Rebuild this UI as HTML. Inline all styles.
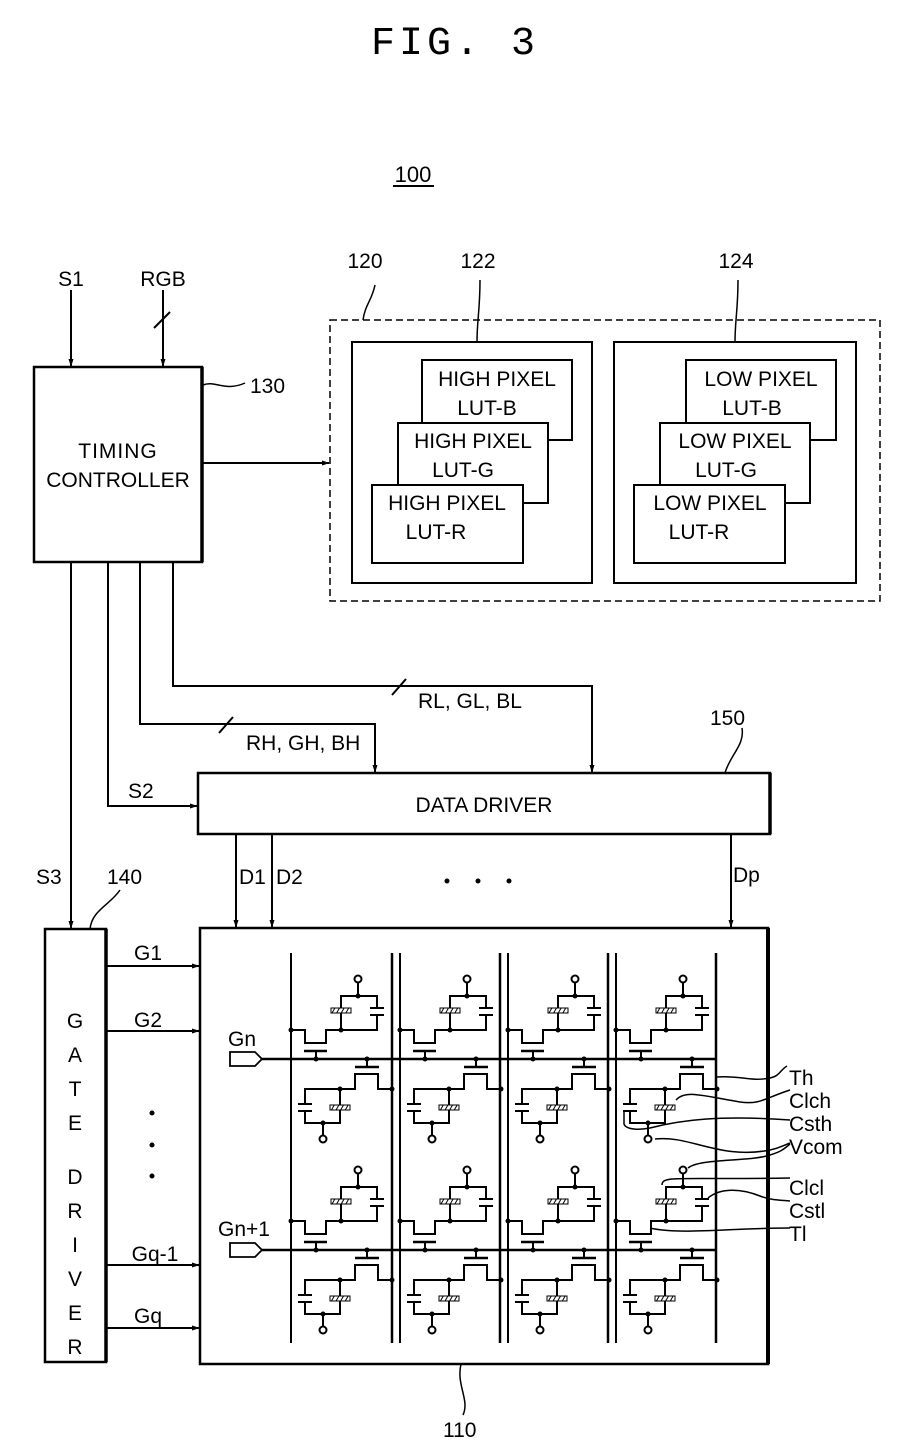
<!DOCTYPE html>
<html><head><meta charset="utf-8"><style>
html,body{margin:0;padding:0;background:#fff}
svg{display:block}
text{font-family:"Liberation Sans",sans-serif;fill:#000}
</style></head><body>
<svg width="898" height="1453" viewBox="0 0 898 1453" xmlns="http://www.w3.org/2000/svg">
<defs>
<marker id="ar" markerWidth="8" markerHeight="8" refX="7" refY="4" orient="auto" markerUnits="userSpaceOnUse"><path d="M0,1.5 L8,4 L0,6.5z" fill="#000"/></marker>
<pattern id="hat" width="4" height="4" patternUnits="userSpaceOnUse" patternTransform="rotate(30)"><rect width="4" height="4" fill="#fff"/><line x1="0" y1="0" x2="0" y2="4" stroke="#000" stroke-width="2"/></pattern>
<g id="cell" fill="none" stroke="#000" stroke-width="2">
  <path d="M0,-29 H14 V-16 H35 V-29 H50"/>
  <line x1="13" y1="-8" x2="36" y2="-8" stroke-width="2.5"/>
  <line x1="25" y1="-8" x2="25" y2="0"/>
  <path d="M50,-29 V-63 H86 V-51 M86,-44 V-29 H50"/>
  <line x1="79" y1="-51" x2="93" y2="-51"/>
  <line x1="79" y1="-44" x2="93" y2="-44"/>
  <rect x="40" y="-51" width="20" height="5" fill="url(#hat)" stroke-width="1"/>
  <line x1="67" y1="-63" x2="67" y2="-76"/>
  <circle cx="67" cy="-80" r="3.5" fill="#fff"/>
  <path d="M49,30 H64 V15 H87 V30 H101"/>
  <line x1="64" y1="8" x2="88" y2="8" stroke-width="2.5"/>
  <line x1="76" y1="0" x2="76" y2="8"/>
  <path d="M49,30 H14 V45 M14,52 V64 H49 V30"/>
  <line x1="7" y1="45" x2="21" y2="45"/>
  <line x1="7" y1="52" x2="21" y2="52"/>
  <rect x="39" y="46" width="20" height="5" fill="url(#hat)" stroke-width="1"/>
  <line x1="32" y1="64" x2="32" y2="76"/>
  <circle cx="32" cy="80" r="3.5" fill="#fff"/>
  <g fill="#000" stroke="none">
    <circle cx="0" cy="-29" r="2.5"/><circle cx="50" cy="-29" r="2.5"/><circle cx="67" cy="-63" r="2.5"/>
    <circle cx="25" cy="0" r="2.5"/><circle cx="76" cy="0" r="2.5"/>
    <circle cx="101" cy="30" r="2.5"/><circle cx="49" cy="30" r="2.5"/><circle cx="32" cy="64" r="2.5"/>
  </g>
</g>
</defs>

<text x="455" y="54" font-size="40" text-anchor="middle" style="font-family:'Liberation Mono',monospace" letter-spacing="4">FIG. 3</text>
<text x="413" y="182" font-size="22" text-anchor="middle">100</text>
<line x1="393" y1="186" x2="434" y2="186" stroke="#000" stroke-width="2"/>

<g fill="none" stroke="#000" stroke-width="2">
<rect x="34" y="367" width="168" height="195" stroke-width="2.5"/>
<line x1="202" y1="367" x2="202" y2="562" stroke-width="3.5"/>
<line x1="71" y1="290" x2="71" y2="366" marker-end="url(#ar)"/>
<line x1="163" y1="290" x2="163" y2="366" marker-end="url(#ar)"/>
<line x1="154" y1="328" x2="170" y2="312"/>
<path d="M203,385 C215,380 225,392 245,383" stroke-width="1.5"/>
<line x1="202" y1="463" x2="329" y2="463" marker-end="url(#ar)"/>

<rect x="330" y="320" width="550" height="281" stroke-dasharray="7,4" stroke-width="1.5"/>
<path d="M363,320 C365,305 372,300 375,285" stroke-width="1.5"/>
<rect x="352" y="342" width="240" height="241"/>
<rect x="614" y="342" width="242" height="241"/>
<path d="M477,342 C477,320 480,310 480,280" stroke-width="1.5"/>
<path d="M735,342 C735,320 738,310 738,280" stroke-width="1.5"/>
<g fill="#fff">
<rect x="422" y="360" width="150" height="80"/>
<rect x="398" y="423" width="150" height="80"/>
<rect x="372" y="485" width="151" height="78"/>
<rect x="686" y="360" width="150" height="80"/>
<rect x="660" y="423" width="150" height="80"/>
<rect x="634" y="485" width="151" height="78"/>
</g>

<line x1="71" y1="562" x2="71" y2="928" marker-end="url(#ar)"/>
<path d="M108,562 V806 H197" marker-end="url(#ar)"/>
<path d="M140,562 V724 H375 V772" marker-end="url(#ar)"/>
<path d="M173,562 V686 H592 V772" marker-end="url(#ar)"/>
<line x1="219" y1="733" x2="233" y2="717"/>
<line x1="392" y1="695" x2="406" y2="679"/>

<rect x="198" y="773" width="572" height="61" stroke-width="2.5"/>
<line x1="770" y1="773" x2="770" y2="834" stroke-width="3.5"/>
<path d="M725,773 C730,755 745,745 742,728" stroke-width="1.5"/>
<line x1="236" y1="834" x2="236" y2="927" marker-end="url(#ar)"/>
<line x1="272" y1="834" x2="272" y2="927" marker-end="url(#ar)"/>
<line x1="731" y1="834" x2="731" y2="927" marker-end="url(#ar)"/>

<rect x="45" y="929" width="61" height="433" stroke-width="2.5"/>
<line x1="106" y1="929" x2="106" y2="1362" stroke-width="3.5"/>
<path d="M90,929 C92,910 110,905 120,890" stroke-width="1.5"/>
<line x1="106" y1="966" x2="199" y2="966" marker-end="url(#ar)"/>
<line x1="106" y1="1031" x2="199" y2="1031" marker-end="url(#ar)"/>
<line x1="106" y1="1265" x2="199" y2="1265" marker-end="url(#ar)"/>
<line x1="106" y1="1328" x2="199" y2="1328" marker-end="url(#ar)"/>

<rect x="200" y="928" width="568" height="436" stroke-width="2.5"/>
<line x1="768" y1="928" x2="768" y2="1364" stroke-width="4"/>
<path d="M461,1364 C456,1385 470,1400 463,1415" stroke-width="1.5"/>
<g stroke-width="2">
<line x1="291" y1="953" x2="291" y2="1343"/>
<line x1="392" y1="953" x2="392" y2="1343" stroke-width="2.5"/>
<line x1="400" y1="953" x2="400" y2="1343"/>
<line x1="500" y1="953" x2="500" y2="1343" stroke-width="2.5"/>
<line x1="508" y1="953" x2="508" y2="1343"/>
<line x1="608" y1="953" x2="608" y2="1343" stroke-width="2.5"/>
<line x1="616" y1="953" x2="616" y2="1343"/>
<line x1="716" y1="953" x2="716" y2="1343" stroke-width="2.5"/>
</g>
<path d="M230,1052 H255 L262,1059 L255,1066 H230 Z" stroke-width="1.8"/>
<line x1="262" y1="1059" x2="716" y2="1059" stroke-width="2.5"/>
<path d="M230,1243 H255 L262,1250 L255,1257 H230 Z" stroke-width="1.8"/>
<line x1="262" y1="1250" x2="716" y2="1250" stroke-width="2.5"/>

<g stroke-width="1.5">
<path d="M716,1077 C740,1075 750,1082 770,1078 C780,1076 780,1070 787,1066"/>
<path d="M676,1100 C685,1090 700,1095 740,1102 C760,1105 765,1098 790,1090"/>
<path d="M650,1128 C680,1120 720,1115 790,1120"/>
<path d="M655,1139 C690,1135 720,1160 770,1150 C780,1148 782,1146 790,1143"/>
<path d="M624,1110 V1124 C626,1130 640,1130 650,1128"/>
<path d="M688,1168 C700,1158 750,1162 770,1155 C780,1152 783,1150 790,1144"/>
<path d="M662,1185 C662,1175 680,1180 790,1178"/>
<path d="M708,1198 C720,1188 740,1188 760,1196 C770,1200 780,1200 790,1201"/>
<path d="M650,1228 C680,1235 730,1228 790,1228"/>
</g>
</g>

<use href="#cell" x="291" y="1059"/>
<use href="#cell" x="400" y="1059"/>
<use href="#cell" x="508" y="1059"/>
<use href="#cell" x="616" y="1059"/>
<use href="#cell" x="291" y="1250"/>
<use href="#cell" x="400" y="1250"/>
<use href="#cell" x="508" y="1250"/>
<use href="#cell" x="616" y="1250"/>

<g font-size="21">
<text x="71" y="286" text-anchor="middle">S1</text>
<text x="163" y="286" text-anchor="middle">RGB</text>
<text x="250" y="393">130</text>
<text x="118" y="458" text-anchor="middle" letter-spacing="1">TIMING</text>
<text x="118" y="487" text-anchor="middle">CONTROLLER</text>
<text x="365" y="268" text-anchor="middle">120</text>
<text x="478" y="268" text-anchor="middle">122</text>
<text x="736" y="268" text-anchor="middle">124</text>
<text x="497" y="386" text-anchor="middle">HIGH PIXEL</text>
<text x="487" y="415" text-anchor="middle">LUT-B</text>
<text x="473" y="448" text-anchor="middle">HIGH PIXEL</text>
<text x="463" y="477" text-anchor="middle">LUT-G</text>
<text x="447" y="510" text-anchor="middle">HIGH PIXEL</text>
<text x="436" y="539" text-anchor="middle">LUT-R</text>
<text x="761" y="386" text-anchor="middle">LOW PIXEL</text>
<text x="752" y="415" text-anchor="middle">LUT-B</text>
<text x="735" y="448" text-anchor="middle">LOW PIXEL</text>
<text x="726" y="477" text-anchor="middle">LUT-G</text>
<text x="710" y="510" text-anchor="middle">LOW PIXEL</text>
<text x="699" y="539" text-anchor="middle">LUT-R</text>
<text x="418" y="708">RL, GL, BL</text>
<text x="246" y="750">RH, GH, BH</text>
<text x="710" y="725">150</text>
<text x="128" y="798">S2</text>
<text x="484" y="812" text-anchor="middle">DATA DRIVER</text>
<text x="36" y="884">S3</text>
<text x="107" y="884">140</text>
<text x="239" y="884">D1</text>
<text x="276" y="884">D2</text>
<text x="733" y="882">Dp</text>
<text x="148" y="960" text-anchor="middle">G1</text>
<text x="148" y="1027" text-anchor="middle">G2</text>
<text x="155" y="1261" text-anchor="middle">Gq-1</text>
<text x="148" y="1323" text-anchor="middle">Gq</text>
<text x="228" y="1046">Gn</text>
<text x="218" y="1236">Gn+1</text>
<text x="443" y="1437">110</text>
<text x="789" y="1085">Th</text>
<text x="789" y="1108">Clch</text>
<text x="789" y="1131">Csth</text>
<text x="789" y="1154">Vcom</text>
<text x="789" y="1195">Clcl</text>
<text x="789" y="1218">Cstl</text>
<text x="789" y="1241">Tl</text>
</g>
<g font-size="21" text-anchor="middle">
<text x="75" y="1028">G</text>
<text x="75" y="1062">A</text>
<text x="75" y="1096">T</text>
<text x="75" y="1130">E</text>
<text x="75" y="1184">D</text>
<text x="75" y="1218">R</text>
<text x="75" y="1252">I</text>
<text x="75" y="1286">V</text>
<text x="75" y="1320">E</text>
<text x="75" y="1354">R</text>
</g>
<g fill="#000">
<circle cx="447" cy="881" r="2.5"/><circle cx="478" cy="881" r="2.5"/><circle cx="509" cy="881" r="2.5"/>
<circle cx="152" cy="1113" r="2.5"/><circle cx="152" cy="1145" r="2.5"/><circle cx="152" cy="1176" r="2.5"/>
</g>
</svg>
</body></html>
